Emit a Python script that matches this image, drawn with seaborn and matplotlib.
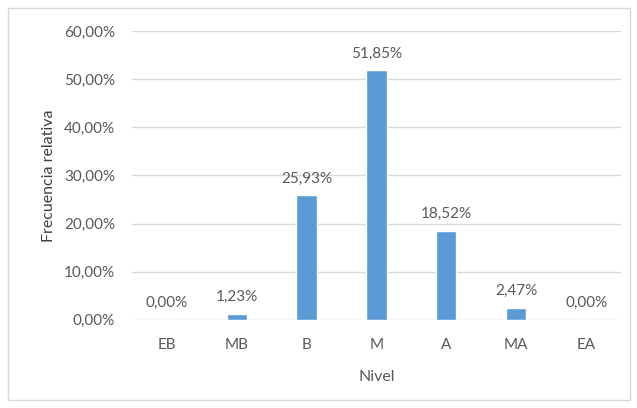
import pandas as pd
import matplotlib.pyplot as plt
import seaborn as sns
from matplotlib.patches import Rectangle
from matplotlib.ticker import FuncFormatter

# Datos del gráfico
niveles = ['EB', 'MB', 'B', 'M', 'A', 'MA', 'EA']
frecuencia = [0.00, 1.23, 25.93, 51.85, 18.52, 2.47, 0.00]
etiquetas = ['0,00%', '1,23%', '25,93%', '51,85%', '18,52%', '2,47%', '0,00%']


def graficar():
    df = pd.DataFrame({'Nivel': niveles, 'Frecuencia': frecuencia})
    sns.set_style('white')
    plt.rcParams['font.family'] = ['Lato', 'DejaVu Sans']
    gris = '#595959'

    fig = plt.figure(figsize=(6.37, 4.08), dpi=100)
    ax = fig.add_axes([0.207, 0.216, 0.768, 0.708])

    sns.barplot(data=df, x='Nivel', y='Frecuencia', color='#5B9BD5',
                width=0.29, saturation=1, ax=ax, zorder=3)

    ax.set_ylim(0, 60)
    ax.set_yticks(range(0, 61, 10))
    ax.yaxis.set_major_formatter(FuncFormatter(lambda v, p: f'{v:.2f}%'.replace('.', ',')))
    ax.grid(axis='y', color='#D9D9D9', linewidth=1, zorder=0)
    for s in ax.spines.values():
        s.set_visible(False)
    ax.tick_params(axis='both', length=0, labelsize=11, labelcolor=gris)
    ax.tick_params(axis='x', pad=13)
    ax.tick_params(axis='y', pad=12)

    for i, (v, t) in enumerate(zip(frecuencia, etiquetas)):
        ax.text(i, v + 2.0, t, ha='center', va='bottom', fontsize=11, color=gris)

    ax.set_xlabel('Nivel', fontsize=11.5, color=gris, labelpad=13)
    ax.set_ylabel('Frecuencia relativa', fontsize=11.5, color='#404040', labelpad=6)

    fig.patches.append(Rectangle((8 / 637, 8 / 408), 622 / 637, 392 / 408,
                                 transform=fig.transFigure, fill=False,
                                 edgecolor='#D9D9D9', linewidth=1))
    fig.savefig('out.png', dpi=100)


if __name__ == '__main__':
    graficar()
